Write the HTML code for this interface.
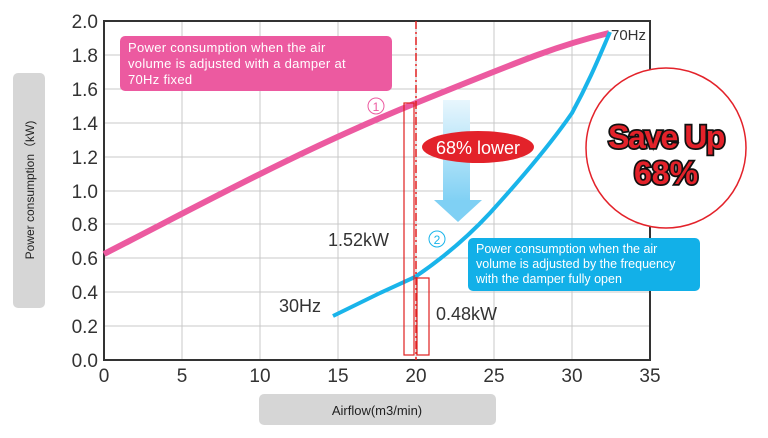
<!DOCTYPE html>
<html><head><style>
body{margin:0;background:#fff;}
svg{display:block;font-family:"Liberation Sans",sans-serif;}
</style></head><body>
<svg width="768" height="438" viewBox="0 0 768 438">
<defs>
<linearGradient id="ag" x1="0" y1="0" x2="0" y2="1"><stop offset="0" stop-color="#e8f6fd"/><stop offset="1" stop-color="#7fd0f4"/></linearGradient>
</defs>
<g stroke="#c8c8c8" stroke-width="1">
<line x1="182" y1="21" x2="182" y2="360"/><line x1="260" y1="21" x2="260" y2="360"/><line x1="338" y1="21" x2="338" y2="360"/><line x1="416" y1="21" x2="416" y2="360"/><line x1="494" y1="21" x2="494" y2="360"/><line x1="572" y1="21" x2="572" y2="360"/>
<line x1="104" y1="55" x2="650" y2="55"/><line x1="104" y1="89" x2="650" y2="89"/><line x1="104" y1="123" x2="650" y2="123"/><line x1="104" y1="157" x2="650" y2="157"/><line x1="104" y1="191" x2="650" y2="191"/><line x1="104" y1="224" x2="650" y2="224"/><line x1="104" y1="258" x2="650" y2="258"/><line x1="104" y1="292" x2="650" y2="292"/><line x1="104" y1="326" x2="650" y2="326"/>
</g>
<rect x="104" y="21" width="546" height="339" fill="none" stroke="#333" stroke-width="2"/>
<g font-size="19" fill="#333" text-anchor="end">
<text x="98" y="28">2.0</text><text x="98" y="62">1.8</text><text x="98" y="96">1.6</text><text x="98" y="130">1.4</text><text x="98" y="164">1.2</text><text x="98" y="198">1.0</text><text x="98" y="231">0.8</text><text x="98" y="265">0.6</text><text x="98" y="299">0.4</text><text x="98" y="333">0.2</text><text x="98" y="367">0.0</text>
</g>
<g font-size="19" fill="#333" text-anchor="middle">
<text x="104" y="382">0</text><text x="182" y="382">5</text><text x="260" y="382">10</text><text x="338" y="382">15</text><text x="416" y="382">20</text><text x="494" y="382">25</text><text x="572" y="382">30</text><text x="650" y="382">35</text>
</g>
<rect x="13" y="73" width="32" height="235" rx="5" fill="#d6d6d6"/>
<text transform="translate(34,190) rotate(-90)" font-size="12" text-anchor="middle" fill="#222">Power consumption（kW)</text>
<rect x="259" y="394" width="237" height="31" rx="5" fill="#d6d6d6"/>
<text x="377" y="415" font-size="13" text-anchor="middle" fill="#222">Airflow(m3/min)</text>
<rect x="120" y="36" width="272" height="55" rx="5" fill="#ec5aa0"/>
<g font-size="13" fill="#fff" letter-spacing="0.3"><text x="128" y="52">Power consumption when the air</text><text x="128" y="68">volume is adjusted with a damper at</text><text x="128" y="84">70Hz fixed</text></g>
<path d="M104,254 C200,205 300,150 416,103 S560,45 609,33" fill="none" stroke="#ec5aa0" stroke-width="6"/>
<circle cx="376" cy="106" r="8" fill="none" stroke="#ec5aa0" stroke-width="1"/>
<text x="376" y="111" font-size="12" fill="#ec5aa0" text-anchor="middle">1</text>
<rect x="443" y="100" width="27" height="102" fill="url(#ag)"/>
<polygon points="434,200 482,200 458,222" fill="#7fd0f4"/>
<path d="M333,316 L380,293 L415,277 C440,260 465,240 490,213 C520,180 550,145 572,113 C590,80 600,55 610,32" fill="none" stroke="#19b4ea" stroke-width="4"/>
<line x1="416" y1="21" x2="416" y2="360" stroke="#e02020" stroke-width="1.5" stroke-dasharray="8,3,2,3"/>
<rect x="404" y="103" width="10" height="252" fill="none" stroke="#e02020" stroke-width="1.2"/>
<rect x="417" y="278" width="12" height="77" fill="none" stroke="#e02020" stroke-width="1.2"/>
<ellipse cx="478" cy="147" rx="56" ry="16" fill="#e3222a"/>
<text x="478" y="154" font-size="18" fill="#fff" text-anchor="middle">68% lower</text>
<circle cx="437" cy="239" r="8" fill="none" stroke="#19b4ea" stroke-width="1"/>
<text x="437" y="244" font-size="12" fill="#19b4ea" text-anchor="middle">2</text>
<rect x="468" y="238" width="232" height="53" rx="5" fill="#12b0e8"/>
<g font-size="12.5" fill="#fff"><text x="476" y="253">Power consumption when the air</text><text x="476" y="268">volume is adjusted by the frequency</text><text x="476" y="283">with the damper fully open</text></g>
<circle cx="666" cy="148" r="80" fill="#fff" stroke="#e3222a" stroke-width="1.5"/>
<g font-size="32" font-weight="bold" text-anchor="middle" fill="#e3222a" stroke="#111" stroke-width="3.5" paint-order="stroke">
<text x="666" y="148" letter-spacing="-1.5">Save Up</text><text x="666" y="184">68%</text></g>
<g font-size="18" fill="#333">
<text x="328" y="246">1.52kW</text><text x="279" y="312">30Hz</text><text x="436" y="320">0.48kW</text></g>
<text x="611" y="40" font-size="15" fill="#333">70Hz</text>
</svg>
</body></html>
